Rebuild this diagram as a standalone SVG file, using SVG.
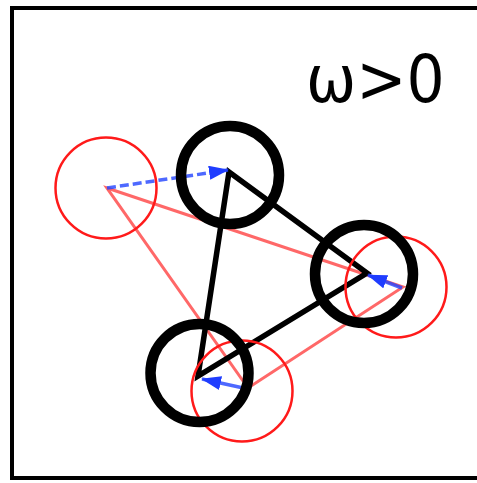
<svg xmlns="http://www.w3.org/2000/svg" width="477" height="483" viewBox="0 0 477 483">
<style>
.frame{fill:none;stroke:#000;stroke-width:4}
.red{fill:none;stroke:#ff1a1a;stroke-width:2.5}
.redtri{fill:none;stroke:#ff4d4d;stroke-width:3;stroke-opacity:0.85;stroke-linejoin:miter}
.blk{fill:none;stroke:#000;stroke-width:10.5}
.blktri{fill:none;stroke:#000;stroke-width:5.5;stroke-linejoin:miter}
.arr{stroke:#2244ff;stroke-opacity:0.8;stroke-width:3.5;fill:none}
.lbl{font-family:"DejaVu Sans",sans-serif;font-size:60px;fill:#000}
</style>
<defs>
<marker id="ah" viewBox="0 0 20 14" refX="19" refY="7" markerWidth="20" markerHeight="14" orient="auto" markerUnits="userSpaceOnUse">
<path d="M0,0 L20,7 L0,14 z" fill="#1f3dff"/>
</marker>
</defs>
<rect class="frame" x="12" y="8" width="470" height="470"/>
<g id="connectors">
<polygon class="redtri" points="107,188 403,287 248,388"/>
<polygon class="blktri" points="229,172 367,273 198,376"/>
<line class="arr" x1="107" y1="188" x2="228" y2="170" stroke-dasharray="9,4" marker-end="url(#ah)"/>
<line class="arr" x1="402" y1="288" x2="368" y2="275" marker-end="url(#ah)"/>
<line class="arr" x1="248" y1="389" x2="202" y2="379" marker-end="url(#ah)"/>
</g>
<g id="red-left"><circle class="red" cx="106" cy="188" r="50.5"/></g>
<g id="red-right"><circle class="red" cx="396" cy="287" r="50.5"/></g>
<g id="red-bottom"><circle class="red" cx="242" cy="391" r="50.5"/></g>
<g id="black-top"><circle class="blk" cx="230" cy="175" r="49"/></g>
<g id="black-right"><circle class="blk" cx="364" cy="274" r="49"/></g>
<g id="black-bottom"><circle class="blk" cx="199.5" cy="373" r="49"/></g>
<text class="lbl" transform="translate(306,102) scale(1,1.1)" x="0" y="0">ω&gt;0</text>
</svg>
